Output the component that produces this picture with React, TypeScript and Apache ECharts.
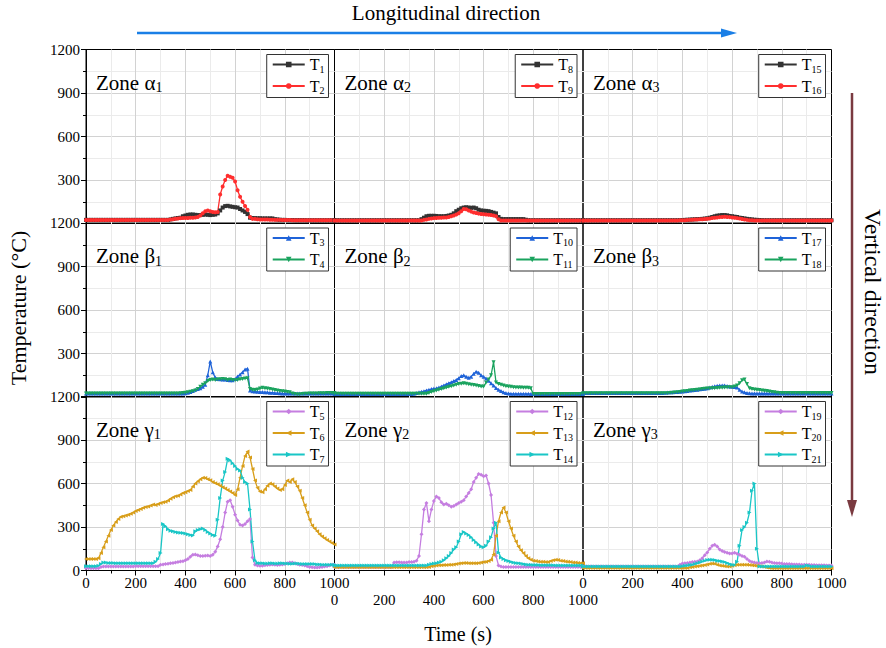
import React, { useEffect, useRef } from "react";
import * as echarts from "echarts";

const FONT = "Liberation Serif";

// sample times (s)
const TIME = [
  0, 10, 20, 30, 40, 50, 60, 70, 80, 90,
  100, 110, 120, 130, 140, 150, 160, 170, 180, 190,
  200, 210, 220, 230, 240, 250, 260, 270, 280, 290,
  300, 310, 320, 330, 340, 350, 360, 370, 380, 390,
  400, 410, 420, 430, 440, 450, 460, 470, 480, 490,
  500, 510, 520, 530, 540, 550, 560, 570, 580, 590,
  600, 610, 620, 630, 640, 650, 660, 670, 680, 690,
  700, 710, 720, 730, 740, 750, 760, 770, 780, 790,
  800, 810, 820, 830, 840, 850, 860, 870, 880, 890,
  900, 910, 920, 930, 940, 950, 960, 970, 980, 990,
  1000,
];

const X_MIN = 0, X_MAX = 1000, X_STEP = 200;
const Y_MIN = 0, Y_MAX = 1200, Y_STEP = 300;

// ---------- Zone alpha ----------
const T1 = [
  25, 25, 25, 25, 25, 25, 25, 25, 25, 25,
  25, 25, 25, 25, 25, 25, 25, 25, 25, 25,
  25, 25, 25, 25, 25, 25, 25, 25, 25, 25,
  25, 25, 25, 25, 28, 32, 35, 38, 40, 50,
  55, 60, 62, 62, 60, 58, 58, 60, 62, 60,
  58, 60, 62, 70, 90, 110, 120, 122, 118, 115,
  112, 110, 100, 90, 80, 65, 40, 38, 37, 36,
  36, 35, 35, 35, 35, 35, 30, 28, 26, 25,
  25, 24, 24, 24, 23, 23, 23, 23, 23, 22,
  22, 22, 22, 22, 22, 22, 22, 22, 22, 22,
  22,
];
const T2 = [
  24, 24, 24, 24, 24, 24, 24, 24, 24, 24,
  24, 24, 24, 24, 24, 24, 24, 24, 24, 24,
  24, 24, 24, 24, 24, 24, 24, 24, 24, 24,
  24, 24, 24, 24, 27, 30, 33, 35, 37, 38,
  38, 38, 40, 40, 42, 45, 55, 70, 85, 90,
  85, 80, 78, 80, 200, 255, 300, 330, 322, 315,
  290, 230, 185, 150, 120, 95, 45, 32, 32, 30,
  28, 28, 27, 27, 26, 26, 25, 25, 25, 24,
  24, 24, 24, 23, 23, 23, 23, 23, 22, 22,
  22, 22, 22, 22, 22, 22, 22, 22, 22, 22,
  22,
];
const T8 = [
  22, 22, 22, 22, 22, 22, 22, 22, 22, 22,
  22, 22, 22, 22, 22, 22, 22, 22, 22, 22,
  22, 22, 22, 22, 22, 22, 22, 22, 22, 22,
  22, 22, 22, 22, 22, 30, 40, 50, 53, 53,
  53, 52, 50, 50, 50, 52, 55, 60, 70, 85,
  95, 105, 110, 112, 110, 108, 110, 105, 95, 90,
  88, 87, 85, 80, 75, 70, 45, 32, 30, 30,
  30, 30, 30, 30, 30, 30, 30, 26, 22, 22,
  22, 22, 22, 22, 22, 22, 22, 22, 22, 22,
  22, 22, 22, 22, 22, 22, 22, 22, 22, 22,
  22,
];
const T9 = [
  20, 20, 20, 20, 20, 20, 20, 20, 20, 20,
  20, 20, 20, 20, 20, 20, 20, 20, 20, 20,
  20, 20, 20, 20, 20, 20, 20, 20, 20, 20,
  20, 20, 20, 20, 20, 20, 25, 28, 32, 35,
  37, 38, 40, 40, 41, 42, 45, 50, 55, 62,
  70, 85, 100, 98, 90, 82, 76, 72, 68, 66,
  64, 62, 60, 58, 55, 50, 30, 20, 20, 20,
  20, 20, 20, 20, 20, 20, 20, 20, 20, 20,
  20, 20, 20, 20, 20, 20, 20, 20, 20, 20,
  20, 20, 20, 20, 20, 20, 20, 20, 20, 20,
  20,
];
const T15 = [
  22, 22, 22, 22, 22, 22, 22, 22, 22, 22,
  22, 22, 22, 22, 22, 22, 22, 22, 22, 22,
  22, 22, 22, 22, 22, 22, 22, 22, 22, 22,
  22, 22, 22, 22, 22, 22, 22, 22, 22, 23,
  24, 25, 26, 27, 28, 29, 30, 31, 32, 34,
  36, 40, 45, 50, 54, 56, 58, 58, 56, 52,
  50, 47, 45, 40, 38, 35, 32, 30, 28, 26,
  25, 24, 23, 22, 22, 22, 22, 22, 22, 22,
  22, 22, 22, 22, 22, 22, 22, 22, 22, 22,
  22, 22, 22, 22, 22, 22, 22, 22, 22, 22,
  22,
];
const T16 = [
  20, 20, 20, 20, 20, 20, 20, 20, 20, 20,
  20, 20, 20, 20, 20, 20, 20, 20, 20, 20,
  20, 20, 20, 20, 20, 20, 20, 20, 20, 20,
  20, 20, 20, 20, 20, 20, 20, 20, 21, 22,
  22, 23, 24, 25, 26, 27, 28, 29, 30, 31,
  33, 35, 38, 40, 42, 44, 45, 46, 45, 44,
  42, 40, 37, 34, 31, 28, 25, 23, 22, 21,
  20, 20, 20, 20, 20, 20, 20, 20, 20, 20,
  20, 20, 20, 20, 20, 20, 20, 20, 20, 20,
  20, 20, 20, 20, 20, 20, 20, 20, 20, 20,
  20,
];

// ---------- Zone beta ----------
const T3 = [
  24, 24, 24, 24, 24, 24, 24, 24, 24, 24,
  24, 24, 24, 24, 24, 24, 24, 24, 24, 24,
  24, 24, 24, 24, 24, 24, 24, 24, 24, 24,
  24, 24, 24, 24, 24, 24, 24, 24, 24, 24,
  26, 30, 35, 42, 50, 55, 60, 70, 85, 150,
  245, 170, 135, 125, 122, 120, 120, 118, 116, 115,
  125, 142, 155, 170, 190, 195, 45, 40, 38, 36,
  35, 34, 33, 32, 30, 30, 28, 27, 26, 25,
  25, 24, 24, 24, 24, 24, 24, 24, 24, 24,
  24, 24, 24, 24, 24, 24, 24, 24, 24, 24,
  24,
];
const T4 = [
  24, 24, 24, 24, 24, 24, 24, 24, 24, 24,
  24, 24, 24, 24, 24, 24, 24, 24, 24, 24,
  24, 24, 24, 24, 24, 24, 24, 24, 24, 24,
  24, 24, 24, 24, 24, 24, 24, 24, 26, 28,
  30, 33, 36, 40, 45, 55, 70, 85, 95, 110,
  118, 120, 118, 120, 122, 125, 122, 118, 120, 118,
  115, 118, 122, 125, 128, 130, 55, 50, 48, 52,
  58, 63, 60, 58, 56, 52, 48, 45, 42, 40,
  38, 35, 32, 25, 20, 18, 18, 20, 22, 22,
  24, 24, 25, 25, 26, 26, 26, 27, 27, 28,
  28,
];
const T10 = [
  20, 20, 20, 20, 20, 20, 20, 20, 20, 20,
  20, 20, 20, 20, 20, 20, 20, 20, 20, 20,
  20, 20, 20, 20, 20, 20, 20, 20, 20, 20,
  20, 20, 23, 27, 32, 36, 40, 45, 50, 55,
  58, 60, 65, 72, 80, 88, 95, 102, 110, 118,
  130, 145, 150, 140, 132, 140, 160, 175, 168, 150,
  140, 128, 112, 95, 80, 62, 50, 42, 32, 27,
  25, 23, 22, 22, 22, 22, 22, 22, 22, 21,
  20, 20, 20, 20, 20, 20, 20, 20, 20, 20,
  20, 20, 20, 20, 20, 20, 20, 20, 20, 20,
  20,
];
const T11 = [
  22, 22, 22, 22, 22, 22, 22, 22, 22, 22,
  22, 22, 22, 22, 22, 22, 22, 22, 22, 22,
  22, 22, 22, 22, 22, 22, 22, 22, 22, 22,
  22, 22, 22, 22, 22, 22, 22, 22, 28, 35,
  40, 45, 50, 55, 60, 65, 70, 75, 80, 85,
  90, 92, 94, 92, 88, 85, 83, 80, 76, 72,
  72, 100, 120, 150, 240, 100, 90, 85, 80, 75,
  72, 70, 68, 66, 65, 65, 64, 64, 63, 60,
  20, 20, 20, 20, 20, 20, 20, 20, 20, 20,
  20, 20, 20, 20, 20, 20, 20, 20, 20, 20,
  20,
];
const T17 = [
  28, 28, 28, 28, 28, 28, 28, 28, 28, 28,
  28, 28, 28, 28, 28, 28, 28, 28, 28, 28,
  28, 28, 28, 28, 28, 28, 28, 28, 28, 28,
  28, 28, 28, 30, 31, 32, 33, 34, 35, 36,
  38, 40, 42, 44, 46, 48, 50, 53, 55, 57,
  60, 65, 70, 74, 77, 79, 80, 80, 76, 72,
  70, 69, 65, 50, 38, 32, 28, 26, 25, 25,
  25, 25, 25, 25, 25, 25, 25, 25, 25, 25,
  25, 25, 25, 25, 25, 25, 25, 25, 25, 25,
  25, 25, 25, 25, 25, 25, 25, 25, 25, 25,
  25,
];
const T18 = [
  26, 26, 26, 26, 26, 26, 26, 26, 26, 26,
  26, 26, 26, 26, 26, 26, 26, 26, 26, 26,
  26, 26, 26, 26, 26, 26, 26, 26, 26, 26,
  26, 26, 26, 26, 26, 28, 30, 31, 32, 35,
  38, 40, 42, 44, 46, 48, 50, 52, 55, 57,
  58, 59, 60, 61, 62, 63, 64, 65, 66, 67,
  68, 72, 80, 95, 115, 120, 90, 60, 55, 52,
  50, 48, 45, 43, 41, 38, 35, 32, 30, 28,
  27, 27, 27, 27, 27, 27, 27, 27, 27, 27,
  27, 27, 27, 27, 27, 27, 27, 27, 27, 27,
  27,
];

// ---------- Zone gamma ----------
const T5 = [
  15, 15, 15, 15, 15, 15, 25, 28, 28, 28,
  28, 28, 28, 28, 28, 28, 28, 28, 28, 28,
  30, 30, 30, 30, 30, 30, 30, 30, 30, 30,
  40, 42, 45, 47, 50, 52, 55, 58, 62, 64,
  70, 80, 95, 108, 110, 105, 100, 100, 102, 104,
  100, 108, 130, 165, 215, 300, 400, 475, 485, 440,
  385, 345, 315, 310, 320, 340, 355, 90, 40, 35,
  32, 33, 36, 38, 40, 42, 40, 38, 40, 42,
  45, 50, 55, 55, 50, 45, 40, 38, 35, 30,
  25, 22, 20, 20, 22, 25, 28, 30, 35, 40,
  40,
];
const T6 = [
  80, 80, 80, 80, 80, 85, 120, 160, 200, 240,
  280, 310, 335, 355, 370, 375, 380, 385, 392, 400,
  410, 418, 425, 432, 438, 442, 448, 455, 452, 458,
  465, 470, 475, 482, 495, 505, 512, 515, 525, 535,
  540, 548, 555, 580, 600, 615, 630, 640, 638, 630,
  622, 610, 602, 595, 585, 575, 565, 555, 545, 535,
  520, 560, 640, 720, 790, 820, 780, 700, 620, 570,
  545, 540, 560, 585, 600, 595, 580, 565, 555, 560,
  590, 620, 610, 630, 610, 580, 550, 500, 450, 400,
  350, 310, 290, 270, 250, 235, 222, 210, 200, 190,
  180,
];
const T7 = [
  30, 30, 30, 30, 30, 32, 45, 55, 55, 52,
  52, 52, 50, 50, 50, 50, 50, 50, 50, 50,
  50, 50, 50, 50, 50, 50, 50, 50, 60, 80,
  120, 320, 305, 285, 275, 270, 265, 262, 260, 258,
  255, 250, 245, 242, 270, 280, 285, 290, 280, 265,
  255, 245, 240, 350, 500, 620, 680, 770, 760, 740,
  720, 700, 690, 640, 610, 600, 420, 200, 70, 52,
  50, 50, 48, 48, 50, 50, 48, 48, 50, 50,
  48, 48, 46, 46, 48, 48, 46, 45, 45, 45,
  45, 44, 44, 42, 42, 40, 40, 40, 40, 40,
  40,
];
const T12 = [
  25, 25, 25, 25, 25, 25, 25, 25, 25, 25,
  25, 25, 25, 25, 25, 25, 25, 25, 25, 25,
  25, 25, 25, 25, 55, 57, 57, 55, 55, 56,
  58, 58, 60, 68, 100, 250, 420, 465, 340, 420,
  480, 510, 500, 470, 455, 460, 450, 440, 445, 455,
  465, 475, 485, 510, 535, 560, 610, 640, 665, 660,
  650, 655, 600, 520, 330, 100, 35, 28, 25, 25,
  25, 25, 25, 25, 25, 25, 25, 25, 25, 25,
  25, 25, 25, 25, 25, 25, 25, 25, 25, 25,
  25, 25, 25, 25, 25, 25, 25, 25, 25, 25,
  25,
];
const T13 = [
  22, 22, 22, 22, 22, 22, 22, 22, 22, 22,
  22, 22, 22, 22, 22, 22, 22, 22, 22, 22,
  22, 22, 22, 22, 22, 22, 22, 22, 22, 22,
  22, 22, 22, 22, 22, 22, 22, 22, 25, 30,
  33, 35, 36, 37, 38, 38, 40, 40, 42, 45,
  48, 50, 52, 52, 50, 50, 50, 50, 52, 55,
  58, 60, 65, 75, 110, 240, 340, 400, 435, 400,
  340, 290, 240, 200, 165, 140, 120, 100, 85, 75,
  68, 65, 62, 60, 60, 58, 58, 65, 70, 75,
  72, 68, 65, 62, 60, 58, 55, 55, 52, 50,
  50,
];
const T14 = [
  35, 35, 35, 35, 35, 35, 35, 35, 35, 35,
  35, 35, 35, 35, 35, 35, 35, 35, 35, 35,
  35, 35, 35, 35, 35, 35, 35, 35, 35, 35,
  35, 35, 35, 35, 35, 35, 35, 35, 40, 45,
  48, 50, 55, 60, 70, 85, 100, 120, 145, 160,
  200, 250, 265, 255, 245, 230, 210, 195, 180, 165,
  160, 170, 200, 230, 290, 330, 125, 90, 80, 70,
  65, 60, 55, 52, 50, 48, 45, 42, 40, 40,
  38, 38, 38, 37, 37, 37, 36, 36, 36, 35,
  35, 35, 35, 35, 35, 35, 35, 35, 35, 35,
  35,
];
const T19 = [
  28, 28, 28, 28, 28, 28, 28, 28, 28, 28,
  28, 28, 28, 28, 28, 28, 28, 28, 28, 28,
  28, 28, 28, 28, 28, 28, 28, 28, 28, 28,
  28, 28, 28, 28, 28, 28, 28, 28, 28, 40,
  48, 50, 52, 55, 58, 60, 62, 70, 85, 105,
  125, 150, 170, 178, 165, 145, 135, 128, 122, 118,
  118, 122, 115, 108, 100, 95, 80, 65, 58, 55,
  52, 50, 52, 55, 62, 60, 55, 52, 50, 50,
  48, 45, 45, 44, 43, 42, 42, 41, 40, 40,
  40, 39, 38, 38, 37, 37, 36, 36, 35, 35,
  35,
];
const T20 = [
  18, 18, 18, 18, 18, 18, 18, 18, 18, 18,
  18, 18, 18, 18, 18, 18, 18, 18, 18, 18,
  18, 18, 18, 18, 18, 18, 18, 18, 18, 18,
  18, 18, 18, 18, 18, 18, 18, 18, 18, 18,
  18, 18, 18, 22, 25, 28, 30, 32, 35, 38,
  42, 46, 48, 46, 40, 35, 32, 30, 28, 28,
  32, 36, 40, 40, 40, 40, 40, 38, 36, 35,
  32, 30, 28, 25, 20, 18, 16, 16, 16, 16,
  16, 16, 16, 16, 16, 16, 16, 16, 16, 16,
  16, 16, 16, 16, 16, 16, 16, 16, 16, 16,
  16,
];
const T21 = [
  28, 28, 28, 28, 28, 28, 28, 28, 28, 28,
  28, 28, 28, 28, 28, 28, 28, 28, 28, 28,
  28, 28, 28, 28, 28, 28, 28, 28, 28, 28,
  28, 28, 28, 28, 28, 28, 28, 28, 28, 28,
  30, 32, 35, 38, 40, 45, 50, 55, 62, 68,
  72, 74, 75, 72, 68, 65, 62, 58, 52, 45,
  40, 38, 60, 170, 280, 300, 330, 400, 550, 600,
  150, 28, 28, 28, 28, 28, 28, 28, 28, 28,
  28, 28, 28, 28, 28, 28, 28, 28, 28, 28,
  35, 32, 28, 28, 28, 28, 28, 28, 28, 28,
  28,
];

const ZONES = ["α", "β", "γ"];
const PANEL_SERIES = [
  [["T1", T1, "black"], ["T2", T2, "red"]],
  [["T8", T8, "black"], ["T9", T9, "red"]],
  [["T15", T15, "black"], ["T16", T16, "red"]],
  [["T3", T3, "blue"], ["T4", T4, "green"]],
  [["T10", T10, "blue"], ["T11", T11, "green"]],
  [["T17", T17, "blue"], ["T18", T18, "green"]],
  [["T5", T5, "violet"], ["T6", T6, "gold"], ["T7", T7, "cyan"]],
  [["T12", T12, "violet"], ["T13", T13, "gold"], ["T14", T14, "cyan"]],
  [["T19", T19, "violet"], ["T20", T20, "gold"], ["T21", T21, "cyan"]],
] as [string, number[], string][][];

const STYLES: Record<string, { color: string; symbol: string; rotate: number }> = {
  black: { color: "#333333", symbol: "rect", rotate: 0 },
  red: { color: "#ff2e2e", symbol: "circle", rotate: 0 },
  blue: { color: "#1f63d8", symbol: "triangle", rotate: 0 },
  green: { color: "#1aa35e", symbol: "triangle", rotate: 180 },
  violet: { color: "#c57ee0", symbol: "diamond", rotate: 0 },
  gold: { color: "#d89e1a", symbol: "triangle", rotate: 90 },
  cyan: { color: "#19c6c6", symbol: "triangle", rotate: -90 },
};

const COL_LEFT = [86, 334.5, 583];
const COL_W = 248.5;
const ROW_TOP = [49.5, 223, 396.5];
const ROW_H = 174;
const W = 886;
const H = 648;

function buildOption() {
  const grid: any[] = [];
  const xAxis: any[] = [];
  const yAxis: any[] = [];
  const series: any[] = [];
  const legend: any[] = [];
  const graphic: any[] = [];

  const splitLine = { show: true, showMinLine: false, showMaxLine: false, lineStyle: { color: "#d2d2d2", width: 1 } };
  const minorSplitLine = { show: true, lineStyle: { color: "#ebebeb", width: 1 } };
  const fmt = (v: number) => String(v);

  for (let r = 0; r < 3; r++) {
    for (let c = 0; c < 3; c++) {
      const g = r * 3 + c;
      grid.push({
        left: COL_LEFT[c], top: ROW_TOP[r], width: COL_W, height: ROW_H,
        show: true, borderColor: "#000", borderWidth: 1, backgroundColor: "transparent",
      });
      xAxis.push({
        gridIndex: g, type: "value", min: X_MIN, max: X_MAX, interval: X_STEP,
        axisLine: { show: r === 2, onZero: false, lineStyle: { color: "#000", width: 1 } },
        axisTick: { show: r === 2, length: 5, lineStyle: { color: "#000" } },
        minorTick: { show: r === 2, splitNumber: 2, length: 3, lineStyle: { color: "#000" } },
        splitLine, minorSplitLine,
        axisLabel: {
          show: r === 2, margin: c === 1 ? 22 : 5, fontSize: 15, color: "#000", fontFamily: FONT,
          showMinLabel: true, showMaxLabel: true, formatter: fmt,
        },
      });
      yAxis.push({
        gridIndex: g, type: "value", min: Y_MIN, max: Y_MAX, interval: Y_STEP,
        axisLine: { show: c === 0, onZero: false, lineStyle: { color: "#000", width: 1 } },
        axisTick: { show: c === 0, length: 5, lineStyle: { color: "#000" } },
        minorTick: { show: c === 0, splitNumber: 2, length: 3, lineStyle: { color: "#000" } },
        splitLine, minorSplitLine,
        axisLabel: {
          show: c === 0, showMinLabel: r === 2, showMaxLabel: true, margin: 6,
          fontSize: 15, color: "#000", fontFamily: FONT, formatter: fmt,
        },
      });
      const items = PANEL_SERIES[g];
      items.forEach(([name, vals, kind]) => {
        const st = STYLES[kind];
        series.push({
          type: "line", name, xAxisIndex: g, yAxisIndex: g,
          data: TIME.map((t, i) => [t, vals[i]]),
          symbol: st.symbol, symbolSize: 4, symbolRotate: st.rotate,
          showSymbol: true, showAllSymbol: true,
          lineStyle: { color: st.color, width: 1.3 },
          itemStyle: { color: st.color },
          emphasis: { disabled: true },
          silent: true,
        });
      });
      legend.push({
        show: true, data: items.map((it) => it[0]), orient: "vertical",
        right: W - (COL_LEFT[c] + COL_W - 6), top: ROW_TOP[r] + 5,
        backgroundColor: "#fff", borderColor: "#333", borderWidth: 1, borderRadius: 0,
        padding: [2, 4, 2, 5], itemWidth: 32, itemHeight: 7, itemGap: 4, selectedMode: false,
        formatter: (n: string) => `{t|T}{s|${n.slice(1)}}`,
        textStyle: {
          color: "#000", fontFamily: FONT,
          rich: {
            t: { fontSize: 16, lineHeight: 19, fontFamily: FONT, color: "#000" },
            s: { fontSize: 10, lineHeight: 10, verticalAlign: "bottom", fontFamily: FONT, color: "#000" },
          },
        },
      });
      graphic.push({
        type: "text", x: COL_LEFT[c] + 10, y: ROW_TOP[r] + 33, z: 100,
        style: {
          text: `{m|Zone ${ZONES[r]}}{s|${c + 1}}`,
          verticalAlign: "middle", align: "left", fill: "#000",
          font: `20px ${FONT}`,
          rich: {
            m: { fontSize: 21, lineHeight: 24, fontFamily: FONT, fill: "#000", color: "#000" },
            s: { fontSize: 14, lineHeight: 14, verticalAlign: "bottom", fontFamily: FONT, fill: "#000", color: "#000" },
          },
        },
      });
    }
  }

  // titles and arrows
  graphic.push(
    {
      type: "text", x: 446, y: 13,
      style: { text: "Longitudinal direction", font: `21px ${FONT}`, fill: "#000", align: "center", verticalAlign: "middle" },
    },
    { type: "line", shape: { x1: 137, y1: 33, x2: 726, y2: 33 }, style: { stroke: "#1a7fe6", lineWidth: 2.5 } },
    { type: "polygon", shape: { points: [[721, 28.5], [737, 33], [721, 37.5]] }, style: { fill: "#1a7fe6" } },
    { type: "line", shape: { x1: 852, y1: 93, x2: 852, y2: 505 }, style: { stroke: "#7a3a40", lineWidth: 2.5 } },
    { type: "polygon", shape: { points: [[847, 500], [852, 517], [857, 500]] }, style: { fill: "#7a3a40" } },
    {
      type: "text", x: 873, y: 292, rotation: -Math.PI / 2,
      style: { text: "Vertical direction", font: `24px ${FONT}`, fill: "#000", align: "center", verticalAlign: "middle" },
    },
    {
      type: "text", x: 18, y: 308, rotation: Math.PI / 2,
      style: { text: "Temperature (°C)", font: `22px ${FONT}`, fill: "#000", align: "center", verticalAlign: "middle" },
    },
    {
      type: "text", x: 458, y: 634,
      style: { text: "Time (s)", font: `20px ${FONT}`, fill: "#000", align: "center", verticalAlign: "middle" },
    }
  );

  return {
    animation: false,
    backgroundColor: "#fff",
    textStyle: { fontFamily: FONT },
    grid, xAxis, yAxis, series, legend, graphic,
  };
}

export default function App() {
  const ref = useRef<HTMLDivElement>(null);
  useEffect(() => {
    if (!ref.current) return;
    const chart = echarts.init(ref.current, undefined, { renderer: "svg", width: W, height: H });
    chart.setOption(buildOption() as any);
    return () => chart.dispose();
  }, []);
  return <div ref={ref} style={{ position: "absolute", left: 0, top: 0, width: W, height: H }} />;
}
